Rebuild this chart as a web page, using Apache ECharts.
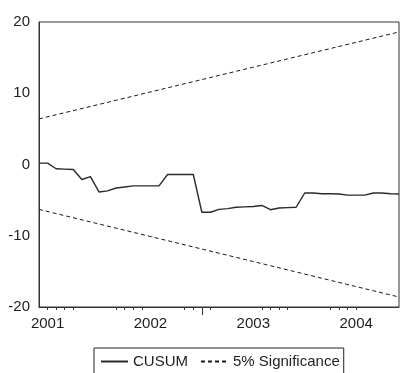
<!DOCTYPE html>
<html>
<head>
<meta charset="utf-8">
<script src="https://cdn.jsdelivr.net/npm/echarts@6/dist/echarts.min.js"></script>
<style>
  html, body { margin: 0; padding: 0; background: #fff; }
  #chart { width: 400px; height: 373px; }
</style>
</head>
<body>
<div id="chart"></div>
<script>
// Monthly observations, Dec 2000 – Jun 2004
const months = [
  '2000M12',
  '2001M01','2001M02','2001M03','2001M04','2001M05','2001M06',
  '2001M07','2001M08','2001M09','2001M10','2001M11','2001M12',
  '2002M01','2002M02','2002M03','2002M04','2002M05','2002M06',
  '2002M07','2002M08','2002M09','2002M10','2002M11','2002M12',
  '2003M01','2003M02','2003M03','2003M04','2003M05','2003M06',
  '2003M07','2003M08','2003M09','2003M10','2003M11','2003M12',
  '2004M01','2004M02','2004M03','2004M04','2004M05','2004M06'
];

// Cumulative sum of recursive residuals
const cusum = [
  0.2, 0.2, -0.6, -0.65, -0.7, -2.1, -1.7, -3.85, -3.7, -3.3, -3.15,
  -3.0, -3.0, -3.0, -3.0, -1.4, -1.4, -1.4, -1.4, -6.7, -6.7,
  -6.3, -6.2, -6.0, -5.95, -5.9, -5.75, -6.35, -6.1, -6.05, -6.0,
  -4.0, -4.0, -4.1, -4.1, -4.15, -4.3, -4.3, -4.3, -4.0, -4.0,
  -4.1, -4.15
];

// 5% significance bounds at the first and last observation
const upperBound = [6.4, 18.6];
const lowerBound = [-6.3, -18.6];

const yTicks = [-20, -10, 0, 10, 20];
const minorTickIdx = [1, 2, 3, 4, 9, 10, 11, 12, 17, 18, 19, 20, 26, 27, 28, 29, 34, 35, 36, 37];
const majorTickIdx = [19];

const FONT = "'Liberation Sans', Arial, sans-serif";
const INK = '#1e1e1e';
const first = months[0];
const last = months[months.length - 1];

const chart = echarts.init(document.getElementById('chart'), null, { renderer: 'canvas' });

chart.setOption({
  animation: false,
  backgroundColor: '#fff',
  textStyle: { fontFamily: FONT },
  grid: {
    left: 39, right: 1, top: 22, bottom: 66,
    show: true, borderColor: '#333', borderWidth: 1, backgroundColor: 'transparent'
  },
  xAxis: [
    {
      type: 'category',
      data: months,
      boundaryGap: false,
      axisLine: { show: true, onZero: false, lineStyle: { color: '#333', width: 1 } },
      axisTick: {
        show: true, length: 3, inside: false,
        interval: (i) => minorTickIdx.includes(i),
        lineStyle: { color: '#333', width: 1 }
      },
      axisLabel: {
        show: true, margin: 9, fontSize: 15, color: INK, fontFamily: FONT,
        interval: (i, v) => v.endsWith('M01'),
        formatter: (v) => v.slice(0, 4)
      },
      splitLine: { show: false }
    },
    {
      type: 'category',
      data: months,
      boundaryGap: false,
      position: 'bottom',
      axisLine: { show: false, onZero: false },
      axisTick: {
        show: true, length: 8, inside: false,
        interval: (i) => majorTickIdx.includes(i),
        lineStyle: { color: '#333', width: 1 }
      },
      axisLabel: { show: false },
      splitLine: { show: false }
    }
  ],
  yAxis: {
    type: 'value',
    min: yTicks[0], max: yTicks[yTicks.length - 1], interval: 10,
    axisLine: { show: true, onZero: false, lineStyle: { color: '#333', width: 1 } },
    axisTick: { show: false },
    axisLabel: { margin: 9, fontSize: 15, color: INK, fontFamily: FONT },
    splitLine: { show: false }
  },
  legend: {
    top: 348, left: 94,
    padding: [6, 4, 10, 6],
    itemWidth: 27, itemHeight: 14, itemGap: 12,
    borderColor: '#222', borderWidth: 1,
    itemStyle: { opacity: 0, borderWidth: 0 },
    textStyle: { fontSize: 15, color: INK, fontFamily: FONT },
    data: ['CUSUM', '5% Significance']
  },
  series: [
    {
      name: 'CUSUM',
      type: 'line',
      data: cusum,
      symbol: 'none',
      lineStyle: { color: '#2a2a2a', width: 1.4, type: 'solid' },
      itemStyle: { color: '#2a2a2a' }
    },
    {
      name: '5% Significance',
      type: 'line',
      data: [[first, upperBound[0]], [last, upperBound[1]]],
      symbol: 'none',
      lineStyle: { color: '#1a1a1a', width: 1, type: [4, 3] },
      itemStyle: { color: '#1a1a1a' }
    },
    {
      name: '5% Significance',
      type: 'line',
      data: [[first, lowerBound[0]], [last, lowerBound[1]]],
      symbol: 'none',
      lineStyle: { color: '#1a1a1a', width: 1, type: [4, 3] },
      itemStyle: { color: '#1a1a1a' }
    }
  ]
});
</script>
</body>
</html>
